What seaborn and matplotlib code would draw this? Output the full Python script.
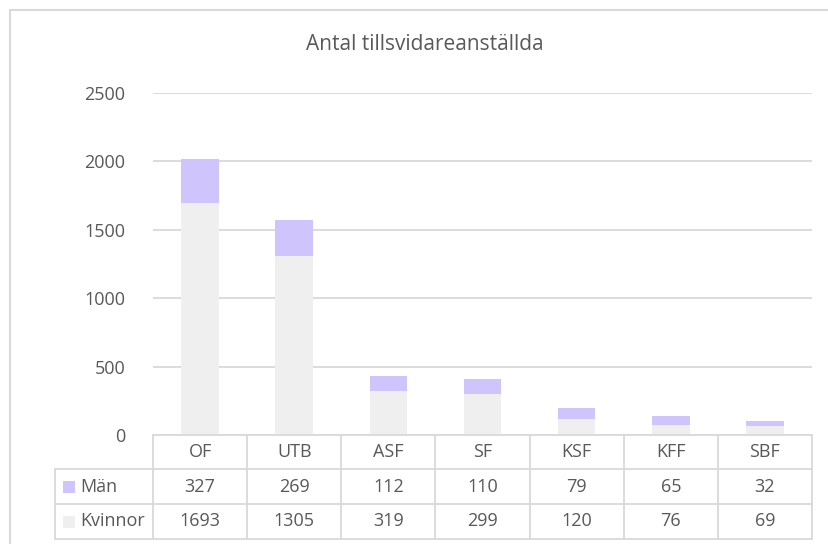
import numpy as np
import pandas as pd
import matplotlib
matplotlib.use("Agg")
import matplotlib.pyplot as plt
from matplotlib.patches import Rectangle
import seaborn as sns

# Data
avdelningar = ["OF", "UTB", "ASF", "SF", "KSF", "KFF", "SBF"]
man = [327, 269, 112, 110, 79, 65, 32]
kvinnor = [1693, 1305, 319, 299, 120, 76, 69]
serier = ["Män", "Kvinnor"]
yticks = [0, 500, 1000, 1500, 2000, 2500]

farg_man = "#D0C4FC"
farg_kv = "#EFEFEF"
grid_c = "#D9D9D9"
text_c = "#595959"

sns.set_theme(style="white")
plt.rcParams["font.family"] = ["Open Sans", "DejaVu Sans"]

W, H = 829, 544
fig = plt.figure(figsize=(W / 100, H / 100), dpi=100)

# plot area in pixels
px0, px1, py_top, py_bot = 153, 812, 93, 435
ax = fig.add_axes([px0 / W, 1 - py_bot / H, (px1 - px0) / W, (py_bot - py_top) / H])

df = pd.DataFrame({"Avdelning": avdelningar,
                   "Total": np.array(man) + np.array(kvinnor),
                   "Kvinnor": kvinnor})

sns.barplot(data=df, x="Avdelning", y="Total", color=farg_man, width=0.4,
            saturation=1, ax=ax, zorder=3, linewidth=0)
sns.barplot(data=df, x="Avdelning", y="Kvinnor", color=farg_kv, width=0.4,
            saturation=1, ax=ax, zorder=3, linewidth=0)

ax.set_xlim(-0.5, len(avdelningar) - 0.5)
ax.set_ylim(0, 2500)
ax.set_yticks(yticks)
ax.set_yticklabels([str(v) for v in yticks], fontsize=13, color=text_c)
ax.tick_params(axis="y", length=0, pad=20)
ax.set_xticks([])
ax.set_xlabel("")
ax.set_ylabel("")
for s in ax.spines.values():
    s.set_visible(False)
ax.yaxis.grid(True, color=grid_c, linewidth=1.3, zorder=0)
ax.set_axisbelow(True)

# overlay for table, title and border
ov = fig.add_axes([0, 0, 1, 1], zorder=5)
ov.set_xlim(0, W)
ov.set_ylim(H, 0)
ov.axis("off")
ov.patch.set_alpha(0)

lw = 1.3
# chart border (cropped at right/bottom)
ov.plot([10, 10], [10, H], color=grid_c, lw=1.5)
ov.plot([10, W], [10, 10], color=grid_c, lw=1.5)

ov.text(425, 45, "Antal tillsvidareanställda", ha="center", va="center",
        fontsize=15, color=text_c)

n = len(avdelningar)
colw = (px1 - px0) / n
rows = [435, 469, 504, 539]
leg_x = 55

# horizontal table lines
ov.plot([px0, px1], [rows[0], rows[0]], color=grid_c, lw=lw)
for y in rows[1:]:
    ov.plot([leg_x, px1], [y, y], color=grid_c, lw=lw)
# vertical table lines
for i in range(n + 1):
    x = px0 + i * colw
    ov.plot([x, x], [rows[0], rows[3]], color=grid_c, lw=lw)
ov.plot([leg_x, leg_x], [rows[1], rows[3]], color=grid_c, lw=lw)

# header and values
for i, name in enumerate(avdelningar):
    cx = px0 + (i + 0.5) * colw
    ov.text(cx, (rows[0] + rows[1]) / 2, name, ha="center", va="center",
            fontsize=13, color=text_c)
    ov.text(cx, (rows[1] + rows[2]) / 2, str(man[i]), ha="center", va="center",
            fontsize=13, color=text_c)
    ov.text(cx, (rows[2] + rows[3]) / 2, str(kvinnor[i]), ha="center", va="center",
            fontsize=13, color=text_c)

# legend keys in the table
for j, (lab, col) in enumerate(zip(serier, [farg_man, farg_kv])):
    cy = (rows[1 + j] + rows[2 + j]) / 2
    ov.add_patch(Rectangle((63, cy - 6), 12, 12, facecolor=col, edgecolor="none"))
    ov.text(80, cy, lab, ha="left", va="center", fontsize=13, color=text_c)

fig.savefig("out.png", dpi=100, facecolor="white")
